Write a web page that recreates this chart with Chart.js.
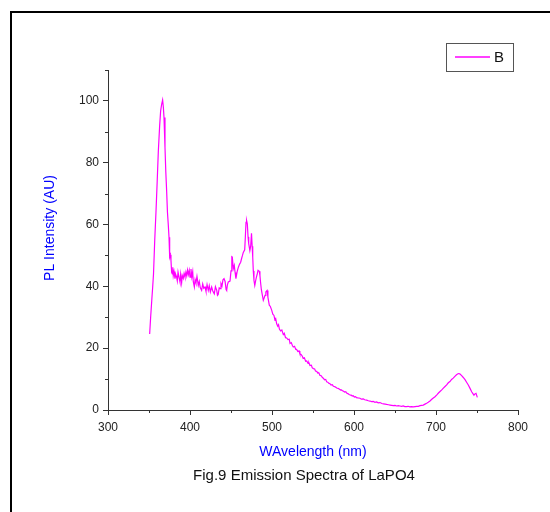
<!DOCTYPE html>
<html>
<head>
<meta charset="utf-8">
<script src="https://cdn.jsdelivr.net/npm/chart.js@4.4.1/dist/chart.umd.min.js"></script>
<style>
html, body { margin: 0; padding: 0; background: #fff; }
</style>
</head>
<body>
<canvas id="spectrum" width="550" height="512"></canvas>
<script>
// wavelength (nm) and PL intensity (AU)
const wavelength = [
    350.8, 352, 353.5, 354.5, 355.5, 357, 358.5, 360, 361.4, 363, 364.2, 365.5, 366.6, 367.5, 368.3,
    369.5, 370.5, 371.5, 372.5, 373.5, 374.4, 375.2, 376, 376.8, 377.6, 378.4, 379, 379.6, 380.5, 381.7,
    382.6, 383.7, 384.5, 385.4, 386.6, 387.8, 388.6, 389.8, 390.6, 391.8, 392.8, 393.9, 395, 396, 397,
    398, 399.1, 400, 401.2, 402.2, 403.3, 404, 405.3, 406.2, 407.3, 408.5, 410.1, 411.3, 412.5, 414.2,
    415.5, 416.8, 418.3, 419.5, 420.8, 422.3, 423.5, 424.8, 426.4, 427.8, 429.6, 431, 432.6, 433.5, 434.4,
    435.6, 436.6, 437.8, 439, 440.2, 441.5, 442.8, 444, 444.7, 445.6, 446.7, 448.8, 450, 451, 451.6,
    452.8, 454, 455, 456, 457.5, 459, 460.5, 461.8, 463, 464, 465, 466.7, 467.5, 468.3, 469,
    469.9, 470.8, 471.6, 473, 474, 475, 475.8, 476.5, 477.2, 478, 479, 480, 481, 482, 483,
    484.5, 485.3, 486, 487, 488, 489.4, 490.5, 491.5, 492.5, 494, 495, 496, 496.7, 498, 499.6,
    501, 502.4, 503.5, 504.5, 505.7, 507, 508, 509, 510.5, 512, 513.8, 515, 516.5, 517.9, 519.5,
    521, 522, 523.5, 525, 526, 527.5, 529, 530, 531.5, 533, 534, 535.5, 537, 538, 539.5,
    541, 542.3, 544, 545, 546.3, 548, 549, 550.4, 552, 553, 554.5, 556, 557, 558.5, 560,
    561.5, 562.6, 564, 565.5, 566.7, 568, 569.5, 570.7, 572, 573.5, 574.8, 576, 577.5, 578.9, 580.5,
    582, 582.9, 584.5, 586, 587, 588.5, 590, 591, 592.5, 594, 595, 596.5, 598, 599, 600.5,
    602, 603, 605, 607.3, 609, 611.3, 613, 615.5, 617.5, 619.5, 621.5, 623.5, 625.5, 627.5, 629.5,
    631.7, 634, 636, 638, 639.8, 642, 644, 646, 648, 650, 652, 654, 656, 658, 660,
    662, 664, 666, 668, 670, 672.3, 674.5, 676.5, 678.5, 680.5, 682.5, 684.5, 686.6, 688.6, 690.5,
    692.7, 694.5, 696.7, 698.8, 701, 703, 704.9, 707, 709, 711, 713, 715, 717, 719, 721,
    723, 725, 727.2, 729, 731.3, 733, 735.4, 737.5, 739.4, 741.5, 743.5, 745, 746.3, 747.5, 748.8,
    750.4
];
const intensity = [
    24.6, 30, 36, 39.8, 44, 55, 64, 74, 83.9, 92, 96.8, 99, 100.3, 98, 94.6,
    85, 77, 71, 64, 60, 55.9, 49.5, 50.2, 48.4, 44.5, 44, 46.2, 43.5, 44.8, 42.5,
    43.8, 43, 41.8, 44.6, 42.9, 41.4, 43.9, 41.2, 43.5, 42.6, 44.2, 43, 44.6, 43.4, 45.3,
    43.8, 45.2, 43, 45.6, 43.1, 44.8, 41.5, 39.8, 42.2, 41.1, 43.2, 40.3, 41.6, 39.6, 38.7,
    40.8, 39.4, 39.8, 38.4, 40.6, 38.7, 40.2, 38.2, 39.8, 38.5, 37.6, 39.9, 38.7, 37.1, 37.4,
    39.5, 39.3, 40.9, 40.1, 42.1, 42.5, 41.6, 39, 38.7, 40.5, 41.4, 41.7, 45, 49.6, 49.5,
    45.7, 46.8, 44.5, 42.5, 44.8, 46.2, 47.2, 47.8, 49.1, 50, 51, 51.8, 56, 60.7, 61.3,
    60.2, 56, 53.8, 51.6, 53, 57.2, 53, 49.5, 45, 41.9, 40.3, 41.8, 43, 44, 45.2,
    44.9, 43.5, 41.4, 39, 37.5, 35.5, 36.3, 37.1, 38.2, 38.7, 36.5, 35, 33.9, 33.5, 32.3,
    31, 30.6, 29.2, 29.6, 27.9, 27.1, 27.6, 26.2, 25.6, 25.9, 24.4, 24.8, 23.4, 23.3, 22.8,
    22.9, 21.5, 21.8, 20.8, 20.4, 20.6, 19.6, 19.6, 18.9, 19.1, 18.2, 18.0, 17.4, 16.7, 16.9,
    15.8, 15.9, 15.1, 15.3, 14.4, 14.5, 13.7, 13.4, 13.3, 12.6, 12.5, 11.9, 12.1, 11.2, 11.1,
    10.5, 10.3, 9.8, 9.9, 9.1, 9.0, 8.6, 8.5, 8.1, 8.2, 7.7, 7.6, 7.4, 7.1, 7.0,
    6.8, 6.6, 6.5, 6.2, 6.1, 5.8, 5.9, 5.5, 5.3, 5.0, 4.9, 4.8, 4.5, 4.6, 4.2,
    4.3, 4.0, 3.9, 3.8, 3.5, 3.6, 3.3, 3.2, 3.0, 2.9, 2.7, 2.8, 2.5, 2.6, 2.3,
    2.4, 2.1, 2.0, 1.9, 1.8, 1.7, 1.6, 1.5, 1.4, 1.5, 1.3, 1.4, 1.3, 1.2, 1.3,
    1.1, 1.1, 1.2, 1.0, 1.1, 1.0, 1.1, 1.2, 1.2, 1.4, 1.5, 1.6, 1.9, 2.2, 2.5,
    2.9, 3.4, 3.9, 4.3, 4.9, 5.5, 6.0, 6.5, 7.1, 7.6, 8.1, 8.8, 9.2, 9.9, 10.3,
    10.9, 11.4, 11.8, 11.7, 11.1, 10.6, 9.8, 8.9, 8.1, 7.0, 5.9, 5.3, 4.8, 5.2, 5.4,
    4.1
];

const seriesName = 'B';
const xMinorTicks = [350, 450, 550, 650, 750];
const yMinorTicks = [10, 30, 50, 70, 90, 110];
const yTitleText = 'PL Intensity (AU)';
const captionText = 'Fig.9 Emission Spectra of LaPO4';

const axisColor = '#333';
const fontName = '"Liberation Sans", Arial, sans-serif';

// frame, minor ticks, y title, boxed legend and caption
const extras = {
    id: 'extras',
    afterDraw(chart) {
        const ctx = chart.ctx;
        const area = chart.chartArea;
        const xs = chart.scales.x;
        const ys = chart.scales.y;
        ctx.save();

        ctx.strokeStyle = '#000';
        ctx.lineWidth = 2;
        ctx.strokeRect(11, 12, 600, 600);

        ctx.strokeStyle = axisColor;
        ctx.lineWidth = 1;
        ctx.beginPath();
        xMinorTicks.forEach(v => {
            const px = Math.round(xs.getPixelForValue(v)) + 0.5;
            ctx.moveTo(px, area.bottom);
            ctx.lineTo(px, area.bottom + 3);
        });
        yMinorTicks.forEach(v => {
            const py = Math.round(ys.getPixelForValue(v)) + 0.5;
            ctx.moveTo(area.left - 3, py);
            ctx.lineTo(area.left, py);
        });
        ctx.stroke();

        // y axis title
        ctx.save();
        ctx.translate(50, 228);
        ctx.rotate(-Math.PI / 2);
        ctx.fillStyle = '#0000ff';
        ctx.font = '14px ' + fontName;
        ctx.textAlign = 'center';
        ctx.textBaseline = 'middle';
        ctx.fillText(yTitleText, 0, 0);
        ctx.restore();

        // legend
        ctx.strokeStyle = '#555';
        ctx.lineWidth = 1;
        ctx.strokeRect(446.5, 43.5, 67, 28);
        ctx.strokeStyle = chart.data.datasets[0].borderColor;
        ctx.lineWidth = 1.5;
        ctx.beginPath();
        ctx.moveTo(455, 57);
        ctx.lineTo(490, 57);
        ctx.stroke();
        ctx.fillStyle = '#111';
        ctx.font = '15px ' + fontName;
        ctx.textAlign = 'left';
        ctx.textBaseline = 'middle';
        ctx.fillText(chart.data.datasets[0].label, 494, 58);

        // caption
        ctx.textAlign = 'center';
        ctx.fillText(captionText, 304, 476);
        ctx.restore();
    }
};

new Chart(document.getElementById('spectrum').getContext('2d'), {
    type: 'line',
    data: {
        datasets: [{
            label: seriesName,
            data: wavelength.map((w, i) => ({ x: w, y: intensity[i] })),
            borderColor: '#ff00ff',
            borderWidth: 1.2,
            pointRadius: 0,
            tension: 0,
            fill: false
        }]
    },
    options: {
        responsive: false,
        animation: false,
        layout: {
            padding: { left: 0, right: 32, top: 70, bottom: 0 }
        },
        plugins: {
            legend: { display: false },
            tooltip: { enabled: false }
        },
        scales: {
            x: {
                type: 'linear',
                min: 300,
                max: 800,
                afterFit: scale => { scale.height = 102; },
                ticks: {
                    stepSize: 100,
                    padding: 5,
                    maxRotation: 0,
                    color: '#222',
                    font: { family: fontName, size: 12 }
                },
                grid: {
                    drawOnChartArea: false,
                    tickLength: 5,
                    color: axisColor
                },
                border: { color: axisColor, width: 1 },
                title: {
                    display: true,
                    text: 'WAvelength (nm)',
                    color: '#0000ff',
                    font: { family: fontName, size: 14 },
                    padding: { top: 0, bottom: 51.6 }
                }
            },
            y: {
                min: 0,
                max: 110,
                afterFit: scale => { scale.width = 108; },
                ticks: {
                    stepSize: 20,
                    includeBounds: false,
                    padding: 4,
                    color: '#222',
                    font: { family: fontName, size: 12 }
                },
                grid: {
                    drawOnChartArea: false,
                    tickLength: 5,
                    color: axisColor
                },
                border: { color: axisColor, width: 1 }
            }
        }
    },
    plugins: [extras]
});
</script>
</body>
</html>
